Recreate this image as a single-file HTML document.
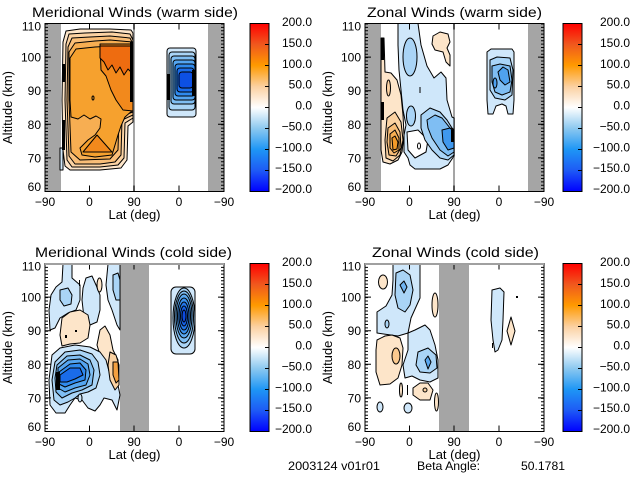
<!DOCTYPE html>
<html><head><meta charset="utf-8">
<style>
html,body{margin:0;padding:0;background:#fff;}
svg{display:block;}
text{font-family:"Liberation Sans",sans-serif;fill:#000;}
.c path,.c ellipse,.c rect{stroke:#000;stroke-width:1;stroke-linejoin:round;}
.bk{fill:#000;stroke:none}
</style></head><body>
<svg width="640" height="480" viewBox="0 0 640 480" xmlns="http://www.w3.org/2000/svg">
<defs>
<linearGradient id="cb" x1="0" y1="0" x2="0" y2="1">
<stop offset="0" stop-color="#ff0000"/>
<stop offset="0.125" stop-color="#f0581e"/>
<stop offset="0.25" stop-color="#ff9a00"/>
<stop offset="0.375" stop-color="#fbd0a0"/>
<stop offset="0.5" stop-color="#ffffff"/>
<stop offset="0.625" stop-color="#8cc8f0"/>
<stop offset="0.75" stop-color="#1e96f5"/>
<stop offset="0.875" stop-color="#1e5af5"/>
<stop offset="1" stop-color="#0000ff"/>
</linearGradient>
</defs>
<rect width="640" height="480" fill="#fff"/>

<!-- ================= TOP LEFT ================= -->
<rect x="45" y="23.5" width="16" height="168" fill="#a5a5a5"/>
<rect x="208" y="23.5" width="16" height="168" fill="#a5a5a5"/>
<rect x="133" y="23.5" width="2" height="168" fill="#a5a5a5"/>
<g class="c">
<path fill="#fde5c9" d="M63,42 L66,31 L80,29 L110,29 L131,30 L133,33 L133,122 L128,126 L127,160 L121,168 L100,170 L70,170 L65,166 L63,150 L62,100 Z"/>
<path fill="#fbd2a2" d="M66,44 L69,34 L85,33 L112,32 L130,34 L133,40 L133,118 L125,123 L124,158 L118,165 L100,167 L72,167 L67,160 L65,100 Z"/>
<path fill="#f9be78" d="M68,47 L72,38 L90,37 L110,36 L130,38 L133,44 L133,115 L122,120 L121,155 L115,162 L100,164 L75,164 L69,156 L67,100 Z"/>
<path fill="#f7ae52" d="M69,52 L75,43 L95,41 L110,40 L133,42 L133,112 L119,117 L118,150 L110,159 L80,160 L71,152 L69,100 Z"/>
<path fill="#f6a12e" d="M70,58 L76,49 L95,47 L133,45 L133,110 L125,117 L121,126 L118,135 L115,145 L112,155 L95,157 L82,155 L80,148 L88,140 L95,135 L100,128 L101,119 L96,116 L90,119 L84,115 L78,119 L71,117 L70,100 Z"/>
<path fill="#f2891c" d="M100,44 L133,44 L133,111 L123,110 L116,100 L111,90 L106,76 L101,70 Z"/>
<path fill="#f2891c" d="M83,152 L97,135 L112,152 Z"/>
<path fill="#ee6c10" d="M100,46 L131,46 L131,72 L128,69 L124,75 L120,67 L116,73 L112,65 L108,70 L104,62 L100,58 Z"/>
<ellipse cx="93" cy="98" rx="1" ry="2" fill="none"/>
<rect x="60" y="148" width="3" height="22" fill="#cfe7fa"/>
<rect x="167" y="48" width="29" height="69" rx="3" fill="#cfe7fa"/>
<rect x="169" y="52" width="26" height="58" rx="3" fill="#a9d4f6"/>
<rect x="171" y="56" width="24" height="48" rx="3" fill="#7fbef3"/>
<rect x="173" y="60" width="22" height="40" rx="3" fill="#54a5f0"/>
<rect x="175" y="64" width="20" height="32" rx="3" fill="#2f8aee"/>
<rect x="177" y="68" width="17" height="24" rx="3" fill="#1a6cea"/>
<rect x="179" y="72" width="14" height="16" rx="3" fill="#0d50e4"/>
</g>
<rect class="bk" x="62" y="64" width="3" height="18"/>
<rect class="bk" x="62" y="120" width="3" height="30"/>
<rect class="bk" x="130" y="42" width="3" height="60"/>
<rect class="bk" x="192" y="70" width="4" height="26"/>
<rect class="bk" x="167" y="74" width="3" height="26"/>

<!-- frame TL -->
<g fill="none" stroke="#000" stroke-width="1">
<rect x="45" y="23.5" width="179" height="168"/>
<line x1="46.5" y1="23.5" x2="46.5" y2="191.5" stroke-width="3" stroke-dasharray="1 2.36"/>
<line x1="222.5" y1="23.5" x2="222.5" y2="191.5" stroke-width="3" stroke-dasharray="1 2.36"/>
<path d="M45,57.1h6M45,90.7h6M45,124.3h6M45,157.9h6M224,57.1h-6M224,90.7h-6M224,124.3h-6M224,157.9h-6M89.5,191.5v-6M134,191.5v-6M179,191.5v-6M89.5,23.5v6M134,23.5v6M179,23.5v6"/>
<rect x="250" y="23.5" width="19" height="168" fill="url(#cb)"/>
<path d="M269,44.5h-4M269,65.5h-4M269,86.5h-4M269,107.5h-4M269,128.5h-4M269,149.5h-4M269,170.5h-4"/>
</g>
<text x="32" y="17" font-size="14" textLength="206" lengthAdjust="spacingAndGlyphs">Meridional Winds (warm side)</text>
<g font-size="12" text-anchor="end">
<text x="41" y="30.5">110</text><text x="41" y="61.5">100</text><text x="41" y="95">90</text><text x="41" y="129">80</text><text x="41" y="162.5">70</text><text x="41" y="191">60</text>
</g>
<g font-size="12" text-anchor="middle">
<text x="45" y="206">−90</text><text x="89.5" y="206">0</text><text x="134" y="206">90</text><text x="179" y="206">0</text><text x="224" y="206">−90</text>
</g>
<text x="134.5" y="219" font-size="13" text-anchor="middle">Lat (deg)</text>
<text transform="translate(12,107.5) rotate(-90)" font-size="13" text-anchor="middle">Altitude (km)</text>
<g font-size="12" text-anchor="end">
<text x="312" y="26">200.0</text><text x="312" y="47">150.0</text><text x="312" y="68">100.0</text><text x="312" y="88.5">50.0</text><text x="312" y="109.5">0.0</text><text x="312" y="130.5">−50.0</text><text x="312" y="151.5">−100.0</text><text x="312" y="172">−150.0</text><text x="312" y="193">−200.0</text>
</g>

<!-- ================= TOP RIGHT ================= -->
<rect x="365" y="23.5" width="16" height="168" fill="#a5a5a5"/>
<rect x="528" y="23.5" width="16" height="168" fill="#a5a5a5"/>
<rect x="453" y="23.5" width="2" height="168" fill="#a5a5a5"/>
<g class="c">
<path fill="#cfe7fa" d="M398,23.5 L418,23.5 L421,45 L427,66 L434,78 L441,72 L446,78 L447,100 L452,117 L454,118 L454,156 L448,165 L440,169 L415,169 L410,165 L408,158 L404,152 L404,135 L406,125 L403,110 L401,90 L399,70 L398,45 Z"/>
<path fill="#ffffff" d="M407,132 L418,130 L428,140 L426,152 L415,158 L408,150 Z"/>
<ellipse cx="410" cy="57" rx="7" ry="19" fill="#a9d4f6"/>
<ellipse cx="411" cy="116" rx="4.5" ry="10" fill="#a9d4f6"/>
<path fill="#a9d4f6" d="M421,115 L430,108 L440,112 L447,120 L452,128 L454,130 L454,155 L448,160 L440,158 L432,150 L425,140 L421,128 Z"/>
<path fill="#7fbef3" d="M427,120 L435,115 L442,118 L450,128 L454,130 L454,152 L448,156 L440,150 L432,138 L428,128 Z"/>
<path fill="#3f98ee" d="M442,130 L450,128 L454,132 L454,148 L448,150 L443,142 Z"/>
<ellipse cx="419" cy="146" rx="1.5" ry="3" fill="none"/>
<path fill="#fde5c9" d="M381,38 L384,38 L385,72 L391,73 L397,80 L401,95 L403,115 L404,135 L402,152 L398,160 L390,164 L383,162 L381,150 Z"/>
<ellipse cx="388.5" cy="88" rx="2" ry="8" fill="#fbd2a2"/>
<path fill="#fbd2a2" d="M387,118 L395,112 L401,122 L403,140 L400,155 L393,161 L386,158 L385,140 Z"/>
<path fill="#f9be78" d="M388,128 L395,123 L400,132 L401,148 L396,156 L389,155 L387,142 Z"/>
<path fill="#f7ae52" d="M390,134 L395,130 L399,138 L399,150 L394,153 L390,148 Z"/>
<path fill="#f49a28" d="M392,138 L395,136 L398,142 L397,149 L393,150 Z"/>
<path fill="#fde5c9" d="M433,36 L440,32 L448,34 L450,42 L447,48 L450,55 L450,66 L446,62 L443,52 L435,50 L432,44 Z"/>
<path fill="#cfe7fa" d="M487,52 L491,49 L512,49 L514,52 L514,100 L513,114 L508,114 L506,106 L502,104 L496,106 L493,114 L488,114 L487,100 Z"/>
<path fill="#a9d4f6" d="M490,60 L497,57 L510,58 L513,70 L512,95 L505,100 L495,98 L490,90 Z"/>
<path fill="#7fbef3" d="M492,66 L500,64 L510,66 L512,80 L510,92 L502,95 L495,92 L492,82 Z"/>
<path fill="#4fa2ef" d="M498,72 L503,67 L508,70 L510,82 L505,85 L500,80 Z"/>
<ellipse cx="495" cy="83" rx="2" ry="5" fill="#4fa2ef"/>
</g>
<rect class="bk" x="381" y="38" width="3" height="22"/>
<rect class="bk" x="381" y="102" width="3" height="18"/>
<rect class="bk" x="451" y="130" width="3" height="12"/>
<rect class="bk" x="419.5" y="87" width="1" height="6"/>

<g transform="translate(320,0)">
<g fill="none" stroke="#000" stroke-width="1">
<rect x="45" y="23.5" width="179" height="168"/>
<line x1="46.5" y1="23.5" x2="46.5" y2="191.5" stroke-width="3" stroke-dasharray="1 2.36"/>
<line x1="222.5" y1="23.5" x2="222.5" y2="191.5" stroke-width="3" stroke-dasharray="1 2.36"/>
<path d="M45,57.1h6M45,90.7h6M45,124.3h6M45,157.9h6M224,57.1h-6M224,90.7h-6M224,124.3h-6M224,157.9h-6M89.5,191.5v-6M134,191.5v-6M179,191.5v-6M89.5,23.5v6M134,23.5v6M179,23.5v6"/>
</g>
<g font-size="12" text-anchor="end">
<text x="41" y="30.5">110</text><text x="41" y="61.5">100</text><text x="41" y="95">90</text><text x="41" y="129">80</text><text x="41" y="162.5">70</text><text x="41" y="191">60</text>
</g>
<g font-size="12" text-anchor="middle">
<text x="45" y="206">−90</text><text x="89.5" y="206">0</text><text x="134" y="206">90</text><text x="179" y="206">0</text><text x="224" y="206">−90</text>
</g>
<text x="134.5" y="219" font-size="13" text-anchor="middle">Lat (deg)</text>
<text transform="translate(12,107.5) rotate(-90)" font-size="13" text-anchor="middle">Altitude (km)</text>
</g>
<text x="367" y="17" font-size="14" textLength="175" lengthAdjust="spacingAndGlyphs">Zonal Winds (warm side)</text>
<g fill="none" stroke="#000" stroke-width="1">
<rect x="563" y="23.5" width="19" height="168" fill="url(#cb)"/>
<path d="M582,44.5h-4M582,65.5h-4M582,86.5h-4M582,107.5h-4M582,128.5h-4M582,149.5h-4M582,170.5h-4"/>
</g>
<g font-size="12" text-anchor="end">
<text x="630" y="26">200.0</text><text x="630" y="47">150.0</text><text x="630" y="68">100.0</text><text x="630" y="88.5">50.0</text><text x="630" y="109.5">0.0</text><text x="630" y="130.5">−50.0</text><text x="630" y="151.5">−100.0</text><text x="630" y="172">−150.0</text><text x="630" y="193">−200.0</text>
</g>

<!-- ================= BOTTOM LEFT ================= -->
<rect x="120" y="263.5" width="29" height="168" fill="#a5a5a5"/>
<g class="c">
<path fill="#cfe7fa" d="M63,264 L72,264 L72,278 L80,285 L80,300 L76,310 L68,313 L60,318 L55,328 L50,330 L49,310 L51,295 L56,287 L62,282 Z"/>
<path fill="#a9d4f6" d="M60,290 L68,288 L72,295 L71,304 L64,306 L60,300 Z"/>
<path fill="#cfe7fa" d="M86,278 L92,276 L96,285 L100,295 L100,310 L97,322 L90,325 L84,318 L82,300 L83,288 Z"/>
<ellipse cx="99.5" cy="285" rx="2.5" ry="7" fill="#fde5c9"/>
<path fill="#fde5c9" d="M62,318 L70,312 L80,310 L88,315 L90,325 L88,338 L80,343 L70,344 L62,346 L60,335 Z"/>
<path fill="#fde5c9" d="M100,330 L105,326 L110,335 L113,350 L118,360 L118,385 L112,380 L106,365 L100,355 L97,345 Z"/>
<path fill="#cfe7fa" d="M108,264 L120,264 L120,330 L117,325 L112,310 L108,300 L106,285 Z"/>
<path fill="#a9d4f6" d="M113,275 L118,273 L120,280 L120,300 L116,300 L113,290 Z"/>
<path fill="#cfe7fa" d="M52,355 L60,348 L75,345 L90,347 L100,352 L106,360 L110,375 L118,385 L120,395 L117,410 L112,400 L104,398 L100,405 L95,411 L88,408 L82,400 L75,398 L70,405 L65,413 L56,413 L50,405 L49,380 Z"/>
<path fill="#a9d4f6" d="M55,362 L65,352 L80,350 L92,354 L98,362 L100,375 L96,388 L88,392 L80,394 L75,398 L68,402 L60,405 L54,400 L52,380 Z"/>
<path fill="#7fbef3" d="M57,365 L67,356 L80,355 L90,360 L94,370 L92,385 L82,390 L72,393 L62,398 L56,392 L55,378 Z"/>
<path fill="#54a5f0" d="M58,368 L68,360 L80,359 L88,364 L90,375 L86,385 L75,388 L65,392 L58,388 Z"/>
<path fill="#2f8aee" d="M59,372 L70,364 L80,363 L86,370 L85,380 L75,383 L65,387 L59,384 Z"/>
<path fill="#1a6cea" d="M60,375 L70,368 L80,368 L83,375 L75,379 L67,382 L60,382 Z"/>
<ellipse cx="80" cy="398" rx="2" ry="4" fill="#cfe7fa"/>
<path fill="#fbd2a2" d="M110,352 L116,355 L119,365 L119,385 L115,390 L110,380 L108,365 Z"/>
<path fill="#f4a040" d="M113,362 L118,362 L119,380 L116,383 L113,375 Z"/>
<rect x="171" y="287" width="24" height="67" rx="5" fill="#cfe7fa"/>
<ellipse cx="184" cy="318" rx="11" ry="30" fill="#a9d4f6"/>
<ellipse cx="184" cy="317" rx="9.5" ry="26" fill="#7fbef3"/>
<ellipse cx="184" cy="316" rx="8" ry="22" fill="#5aa8f0"/>
<ellipse cx="184" cy="316" rx="6.5" ry="18" fill="#3a90ee"/>
<ellipse cx="184" cy="316" rx="5" ry="14" fill="#2276ea"/>
<ellipse cx="184" cy="316" rx="3.5" ry="10" fill="#1560e6"/>
<ellipse cx="184" cy="316" rx="2" ry="6" fill="#0c4ae0"/>
</g>
<rect class="bk" x="56" y="372" width="4" height="18"/>
<rect class="bk" x="79" y="280" width="1" height="6"/>
<rect class="bk" x="65" y="335" width="2" height="3"/>
<rect class="bk" x="75" y="330" width="2" height="2"/>

<g transform="translate(0,240)">
<g fill="none" stroke="#000" stroke-width="1">
<rect x="45" y="23.5" width="179" height="168"/>
<line x1="46.5" y1="23.5" x2="46.5" y2="191.5" stroke-width="3" stroke-dasharray="1 2.36"/>
<line x1="222.5" y1="23.5" x2="222.5" y2="191.5" stroke-width="3" stroke-dasharray="1 2.36"/>
<path d="M45,57.1h6M45,90.7h6M45,124.3h6M45,157.9h6M224,57.1h-6M224,90.7h-6M224,124.3h-6M224,157.9h-6M89.5,191.5v-6M134,191.5v-6M179,191.5v-6M89.5,23.5v6M134,23.5v6M179,23.5v6"/>
<line x1="45" y1="24" x2="224" y2="24" stroke="#a0a0a0" stroke-width="2"/>
<rect x="250" y="23.5" width="19" height="168" fill="url(#cb)"/>
<path d="M269,44.5h-4M269,65.5h-4M269,86.5h-4M269,107.5h-4M269,128.5h-4M269,149.5h-4M269,170.5h-4"/>
</g>
<g font-size="12" text-anchor="end">
<text x="41" y="30.5">110</text><text x="41" y="61.5">100</text><text x="41" y="95">90</text><text x="41" y="129">80</text><text x="41" y="162.5">70</text><text x="41" y="191">60</text>
</g>
<g font-size="12" text-anchor="middle">
<text x="45" y="206">−90</text><text x="89.5" y="206">0</text><text x="134" y="206">90</text><text x="179" y="206">0</text><text x="224" y="206">−90</text>
</g>
<text x="134.5" y="219" font-size="13" text-anchor="middle">Lat (deg)</text>
<text transform="translate(12,107.5) rotate(-90)" font-size="13" text-anchor="middle">Altitude (km)</text>
<g font-size="12" text-anchor="end">
<text x="312" y="26">200.0</text><text x="312" y="47">150.0</text><text x="312" y="68">100.0</text><text x="312" y="88.5">50.0</text><text x="312" y="109.5">0.0</text><text x="312" y="130.5">−50.0</text><text x="312" y="151.5">−100.0</text><text x="312" y="172">−150.0</text><text x="312" y="193">−200.0</text>
</g>
</g>
<text x="35" y="257" font-size="14" textLength="197" lengthAdjust="spacingAndGlyphs">Meridional Winds (cold side)</text>

<!-- ================= BOTTOM RIGHT ================= -->
<rect x="439" y="263.5" width="30" height="168" fill="#a5a5a5"/>
<g class="c">
<path fill="#cfe7fa" d="M393,264 L420,264 L420,298 L411,318 L408,333 L398,336 L377,333 L377,312 L386,306 L392,295 L393,280 Z"/>
<path fill="#a9d4f6" d="M396,273 L403,270 L410,275 L413,290 L410,305 L405,312 L398,308 L395,295 Z"/>
<path fill="#6fb4f1" d="M400,285 L404,281 L407,287 L404,293 Z"/>
<ellipse cx="387" cy="324" rx="2" ry="4" fill="#a9d4f6"/>
<path fill="#cfe7fa" d="M408,333 L415,330 L425,325 L430,330 L435,345 L438,360 L438,378 L430,382 L420,380 L412,376 L405,378 L403,365 L408,350 Z"/>
<path fill="#a9d4f6" d="M418,352 L428,348 L436,355 L437,368 L430,373 L420,372 L416,365 Z"/>
<path fill="#5aa8f0" d="M425,360 L428,356 L431,362 L428,369 Z"/>
<ellipse cx="383" cy="282" rx="4.5" ry="7" fill="#fde5c9"/>
<path fill="#fde5c9" d="M377,340 L385,336 L392,335 L400,338 L403,348 L402,365 L398,378 L390,384 L380,385 L376,372 L376,350 Z"/>
<ellipse cx="396" cy="356" rx="4" ry="8" fill="#fbc98e"/>
<path fill="#fde5c9" d="M413,388 L420,383 L428,383 L433,390 L430,400 L420,400 L413,395 Z"/>
<ellipse cx="425" cy="390" rx="2" ry="2" fill="#fbd2a2"/>
<ellipse cx="435" cy="305" rx="3" ry="12" fill="#fde5c9"/>
<ellipse cx="436.5" cy="402" rx="2" ry="9" fill="#fde5c9"/>
<ellipse cx="401" cy="390" rx="1.5" ry="7" fill="#fde5c9"/>
<ellipse cx="380" cy="407" rx="3" ry="5" fill="#cfe7fa"/>
<ellipse cx="408" cy="408" rx="4" ry="5" fill="#cfe7fa"/>
<path fill="#cfe7fa" d="M492,290 L500,288 L504,292 L503,320 L502,340 L498,350 L495,352 L493,340 L491,320 Z"/>
<path fill="#fde5c9" d="M511,317 L515,331 L511,345 L507,331 Z"/>
</g>
<rect class="bk" x="407" y="385" width="1" height="10"/>
<rect class="bk" x="516" y="296" width="2" height="2"/>
<rect class="bk" x="492" y="343" width="1" height="5"/>

<g transform="translate(320,240)">
<g fill="none" stroke="#000" stroke-width="1">
<rect x="45" y="23.5" width="179" height="168"/>
<line x1="46.5" y1="23.5" x2="46.5" y2="191.5" stroke-width="3" stroke-dasharray="1 2.36"/>
<line x1="222.5" y1="23.5" x2="222.5" y2="191.5" stroke-width="3" stroke-dasharray="1 2.36"/>
<path d="M45,57.1h6M45,90.7h6M45,124.3h6M45,157.9h6M224,57.1h-6M224,90.7h-6M224,124.3h-6M224,157.9h-6M89.5,191.5v-6M134,191.5v-6M179,191.5v-6M89.5,23.5v6M134,23.5v6M179,23.5v6"/>
<line x1="45" y1="24" x2="224" y2="24" stroke="#a0a0a0" stroke-width="2"/>
</g>
<g font-size="12" text-anchor="end">
<text x="41" y="30.5">110</text><text x="41" y="61.5">100</text><text x="41" y="95">90</text><text x="41" y="129">80</text><text x="41" y="162.5">70</text><text x="41" y="191">60</text>
</g>
<g font-size="12" text-anchor="middle">
<text x="45" y="206">−90</text><text x="89.5" y="206">0</text><text x="134" y="206">90</text><text x="179" y="206">0</text><text x="224" y="206">−90</text>
</g>
<text x="134.5" y="219" font-size="13" text-anchor="middle">Lat (deg)</text>
<text transform="translate(12,107.5) rotate(-90)" font-size="13" text-anchor="middle">Altitude (km)</text>
</g>
<text x="372" y="257" font-size="14" textLength="167" lengthAdjust="spacingAndGlyphs">Zonal Winds (cold side)</text>
<g fill="none" stroke="#000" stroke-width="1">
<rect x="563" y="263.5" width="19" height="168" fill="url(#cb)"/>
<path d="M582,284.5h-4M582,305.5h-4M582,326.5h-4M582,347.5h-4M582,368.5h-4M582,389.5h-4M582,410.5h-4"/>
</g>
<g font-size="12" text-anchor="end">
<text x="630" y="266">200.0</text><text x="630" y="287">150.0</text><text x="630" y="308">100.0</text><text x="630" y="328.5">50.0</text><text x="630" y="349.5">0.0</text><text x="630" y="370.5">−50.0</text><text x="630" y="391.5">−100.0</text><text x="630" y="412">−150.0</text><text x="630" y="433">−200.0</text>
</g>

<!-- footer -->
<g font-size="12">
<text x="288" y="470" textLength="92" lengthAdjust="spacingAndGlyphs">2003124 v01r01</text>
<text x="417" y="470" textLength="63" lengthAdjust="spacingAndGlyphs">Beta Angle:</text>
<text x="521" y="470" textLength="44" lengthAdjust="spacingAndGlyphs">50.1781</text>
</g>
</svg>
</body></html>
